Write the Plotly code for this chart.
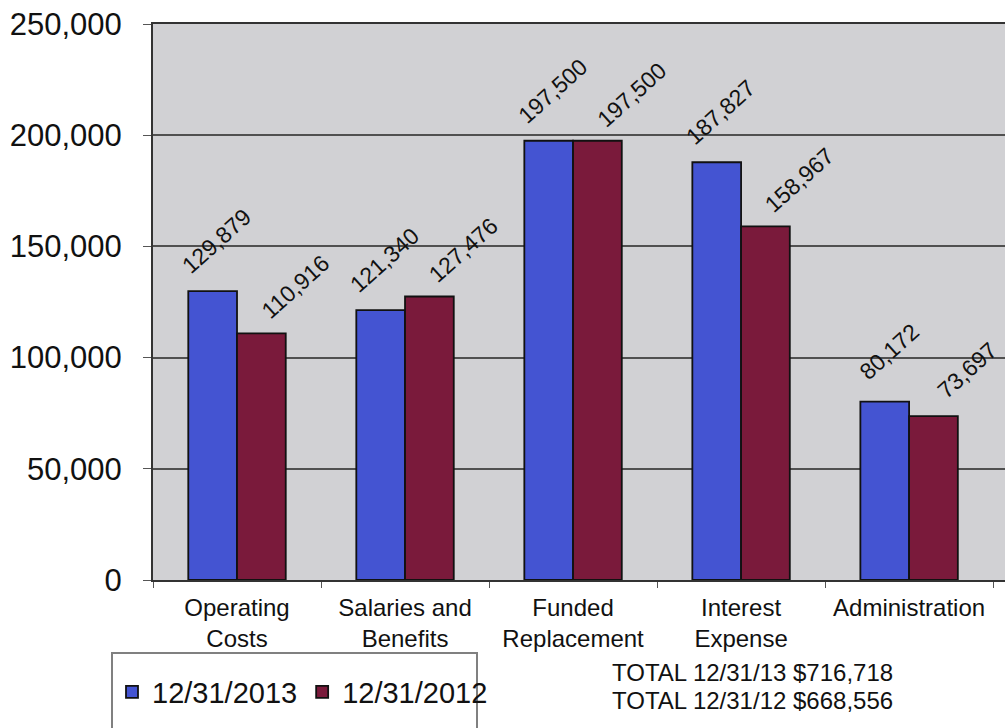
import plotly.graph_objects as go

categories = ["Operating<br>Costs", "Salaries and<br>Benefits", "Funded<br>Replacement",
              "Interest<br>Expense", "Administration"]
series_names = ["12/31/2013", "12/31/2012"]
values_2013 = [129879, 121340, 197500, 187827, 80172]
values_2012 = [110916, 127476, 197500, 158967, 73697]
total_labels = ["TOTAL 12/31/13", "TOTAL 12/31/12"]
y_ticks = [0, 50000, 100000, 150000, 200000, 250000]

colors = ["#4454d2", "#7a1a3b"]
FONT = "Liberation Sans, Arial, sans-serif"
W, H = 1005, 728
L, R, T, B = 153, 0, 24, 148
BARGAP = 0.42
pw, ph = W - L - R, H - T - B


def px_x(p):
    return (p - L) / pw


def px_y(p):
    return (H - B - p) / ph


fig = go.Figure()
for name, vals, col in zip(series_names, [values_2013, values_2012], colors):
    fig.add_trace(go.Bar(
        x=categories, y=vals, name=name,
        marker=dict(color=col, line=dict(color="#111111", width=1.8)),
        hoverinfo="skip",
    ))

# rotated data labels
half = (1 - BARGAP) / 4
label_offsets = [(-half, 4, 50), (half, 34, 46)]
for vals, (off, xs, ys) in zip([values_2013, values_2012], label_offsets):
    for i, v in enumerate(vals):
        fig.add_annotation(
            x=i + off, y=v, xref="x", yref="y",
            text=f"{v:,}", showarrow=False, textangle=-42,
            xanchor="center", yanchor="middle", xshift=xs, yshift=ys,
            font=dict(family=FONT, size=23, color="#111111"),
        )

# totals
totals = [sum(values_2013), sum(values_2012)]
for k, (lab, tot) in enumerate(zip(total_labels, totals)):
    fig.add_annotation(
        x=px_x(610), y=px_y(672 + 28 * k), xref="paper", yref="paper",
        text=f"{lab} ${tot:,}", showarrow=False, xanchor="left", yanchor="middle",
        font=dict(family=FONT, size=24, color="#111111"),
    )

# legend box (extends off the bottom of the page)
fig.add_shape(type="rect", xref="paper", yref="paper",
              x0=px_x(112), x1=px_x(477), y0=px_y(800), y1=px_y(653),
              line=dict(color="#808080", width=2), fillcolor="rgba(0,0,0,0)")

fig.update_layout(
    width=W, height=H,
    margin=dict(l=L, r=R, t=T, b=B, pad=0, autoexpand=False),
    paper_bgcolor="white", plot_bgcolor="#d1d1d4",
    barmode="group", bargap=BARGAP, bargroupgap=0,
    font=dict(family=FONT, color="#111111"),
    showlegend=True,
    legend=dict(orientation="h", xref="container", yref="container",
                x=112 / W, y=1 - 692 / H, xanchor="left", yanchor="middle",
                font=dict(family=FONT, size=29, color="#111111"),
                bgcolor="rgba(0,0,0,0)", borderwidth=0, itemwidth=30,
                traceorder="normal"),
    xaxis=dict(showgrid=False, showline=True, linecolor="#333333", linewidth=2,
               mirror=True, ticks="outside", tickson="boundaries", ticklen=6,
               tickcolor="#555555", ticklabelstandoff=5,
               tickfont=dict(family=FONT, size=24, color="#111111"),
               fixedrange=True),
    yaxis=dict(range=[0, 250000], tickvals=y_ticks, tickformat=",",
               showgrid=True, gridcolor="#505050", gridwidth=1.5,
               showline=True, linecolor="#333333", linewidth=2, mirror=True,
               ticks="outside", ticklen=8, tickcolor="#555555",
               ticklabelstandoff=15,
               tickfont=dict(family=FONT, size=31, color="#111111"),
               zeroline=False, fixedrange=True),
)

fig.write_html("out.html", config={"displayModeBar": False},
               post_script="document.body.style.margin='0';document.body.style.overflow='hidden';")
